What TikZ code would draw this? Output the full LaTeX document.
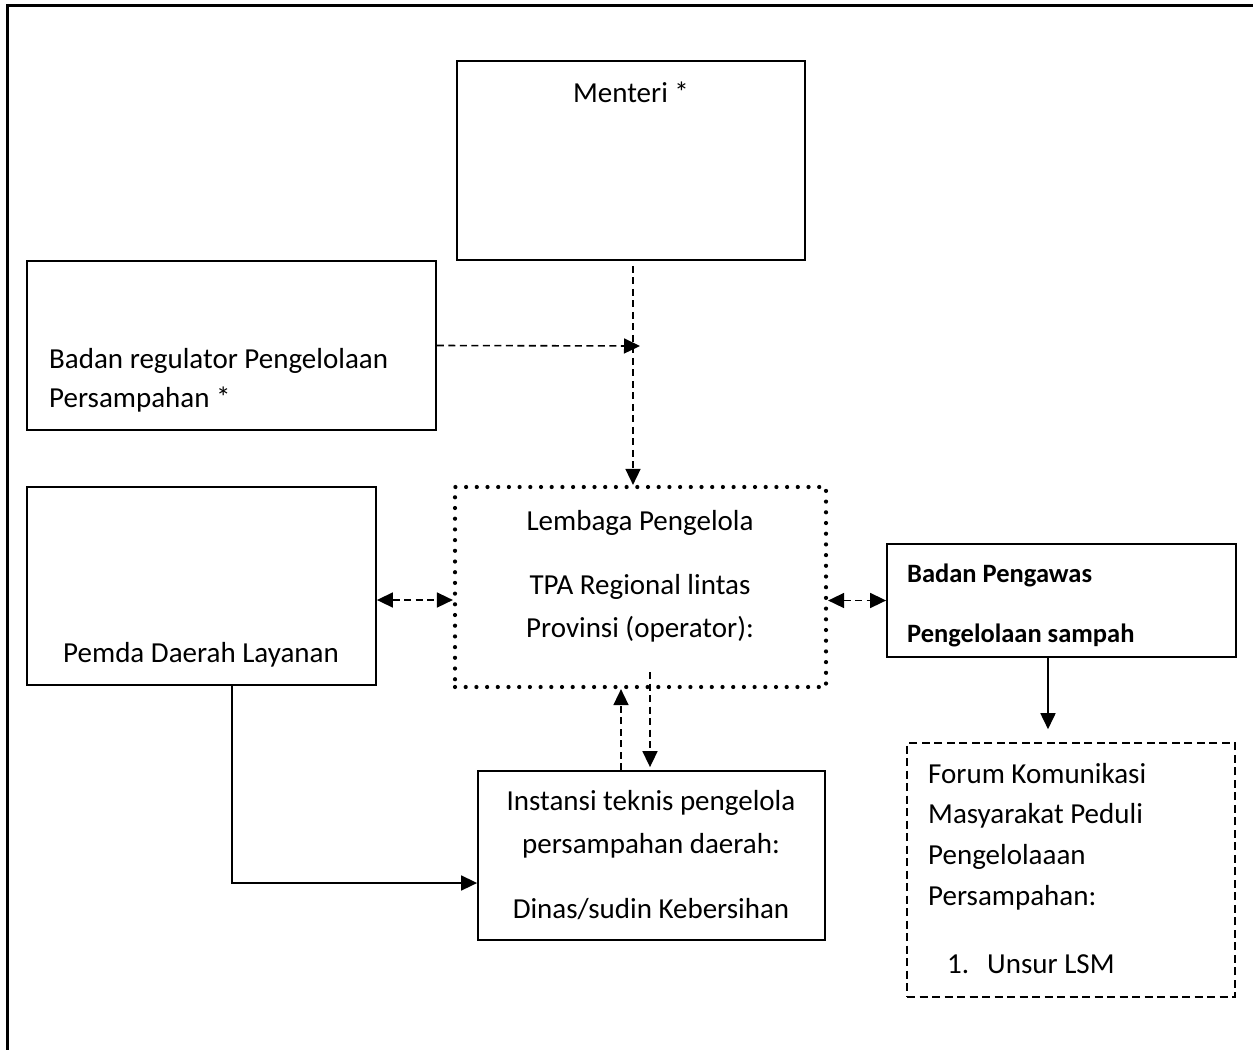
\documentclass[tikz,border=0pt]{standalone}
\usepackage{fontspec}
\setmainfont{Carlito}
\usetikzlibrary{arrows.meta}
\begin{document}
\begin{tikzpicture}[x=1pt,y=-1pt,
  box/.style={draw,line width=1.8pt,inner sep=0pt},
  dotbox/.style={draw,line width=4.2pt,line cap=round,dash pattern=on 0pt off 10.7pt,inner sep=0pt},
  dashbox/.style={draw,line width=1.6pt,dash pattern=on 8pt off 4.5pt,inner sep=0pt},
  txt/.style={inner sep=0pt,font=\fontsize{29}{34}\selectfont},
  btxt/.style={inner sep=0pt,font=\fontsize{26.5}{32}\selectfont\bfseries},
  tip/.style={-{Triangle[length=16pt,width=15pt]}},
  dtip/.style={{Triangle[length=16pt,width=15pt]}-{Triangle[length=16pt,width=15pt]}},
  darr/.style={line width=1.6pt,dash pattern=on 7pt off 4.5pt,tip},
  ddarr/.style={line width=1.6pt,dash pattern=on 7pt off 4.5pt,dtip},
  sarr/.style={line width=1.7pt,tip},
  frame/.style={line width=3pt}]
\useasboundingbox (0,0) rectangle (1253,1050);
\draw[frame] (1253,5) -- (7,5) -- (7,1050);

% boxes
\node[box,minimum width=348pt,minimum height=199pt] (menteri) at (631,160.5) {};
\node[box,minimum width=409pt,minimum height=169pt] (regulator) at (231.5,345.5) {};
\node[dotbox,minimum width=371pt,minimum height=200pt] (lembaga) at (640.5,587) {};
\node[box,minimum width=349pt,minimum height=198pt] (pemda) at (201.5,586) {};
\node[box,minimum width=349pt,minimum height=113pt] (pengawas) at (1061.5,600.5) {};
\node[dashbox,minimum width=328pt,minimum height=254pt] (forum) at (1071,870) {};
\node[box,minimum width=347pt,minimum height=169pt] (instansi) at (651.5,855.5) {};

% texts
\node[txt,anchor=base] (tmenteri) at (631,102) {Menteri *};
\node[txt,anchor=base west] (treg1) at (49,368) {Badan regulator Pengelolaan};
\node[txt,anchor=base west] (treg2) at (49,407) {Persampahan *};
\node[txt,anchor=base] (tlem1) at (640,530) {Lembaga Pengelola};
\node[txt,anchor=base] (tlem2) at (640,594) {TPA Regional lintas};
\node[txt,anchor=base] (tlem3) at (640,637) {Provinsi (operator):};
\node[txt,anchor=base] (tpemda) at (201,662) {Pemda Daerah Layanan};
\node[txt,anchor=base] (tins1) at (651,810) {Instansi teknis pengelola};
\node[txt,anchor=base] (tins2) at (651,853) {persampahan daerah:};
\node[txt,anchor=base] (tins3) at (651,918) {Dinas/sudin Kebersihan};
\begin{scope}
\clip (887,544) rectangle (1236,647);
\node[btxt,anchor=base west] (tpeng1) at (907,582) {Badan Pengawas};
\node[btxt,anchor=base west] (tpeng2) at (907,642) {Pengelolaan sampah};
\end{scope}
\node[txt,anchor=base west] (tfor1) at (928,783) {Forum Komunikasi};
\node[txt,anchor=base west] (tfor2) at (928,823) {Masyarakat Peduli};
\node[txt,anchor=base west] (tfor3) at (928,864) {Pengelolaaan};
\node[txt,anchor=base west] (tfor4) at (928,905) {Persampahan:};
\node[txt,anchor=base west] (tfor5) at (947,973) {1.};
\node[txt,anchor=base west] (tfor6) at (987,973) {Unsur LSM};

% connectors
\coordinate (jn) at (640,346);
\draw[darr] (regulator.east) -- (jn);
\draw[darr] ([xshift=2pt,yshift=-5pt]menteri.south) -- ([xshift=2pt]menteri.south |- lembaga.north);
\draw[ddarr] ([yshift=-14pt]pemda.east) -- ([yshift=-14pt]pemda.east -| lembaga.west);
\draw[ddarr] (lembaga.east |- pengawas.west) -- (pengawas.west);
\draw[sarr,shorten >=13pt] ([xshift=-13.5pt]pengawas.south) -- ([xshift=-13.5pt]pengawas.south |- forum.north);
\draw[darr] ([xshift=-30.5pt]instansi.north) -- ([xshift=-30.5pt]instansi.north |- lembaga.south);
\draw[darr,shorten >=3pt] ([xshift=-1.5pt,yshift=17pt]instansi.north |- lembaga.south) -- ([xshift=-1.5pt]instansi.north);
\draw[sarr] ([xshift=30.5pt]pemda.south) |- ([yshift=-27.5pt]instansi.west);
\end{tikzpicture}
\end{document}
